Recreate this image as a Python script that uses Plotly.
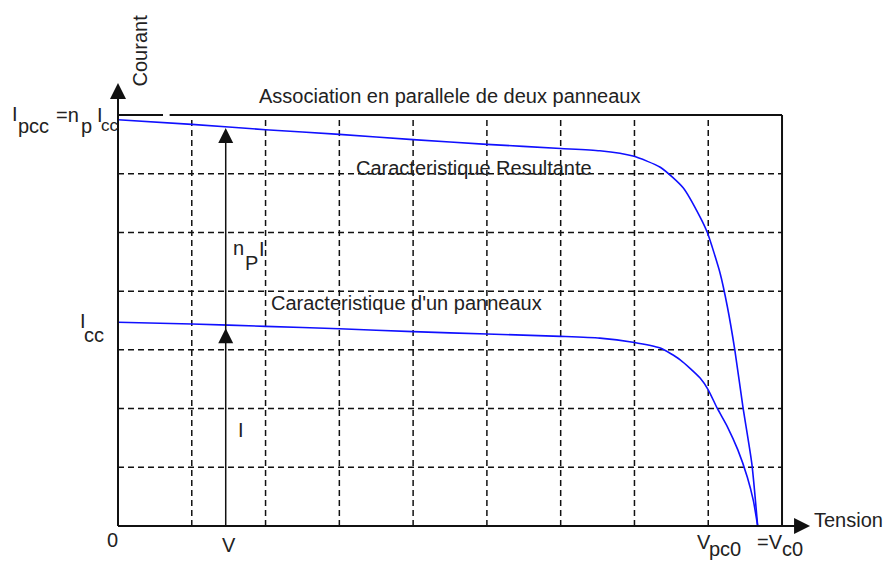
import plotly.graph_objects as go

# ---------------- data (grid units: 9 voltage divisions, 7 current divisions) ----------------
v_single = [0, 1, 2, 3, 4, 5, 6, 6.53, 6.98, 7.35, 7.62, 7.89, 8.0, 8.12, 8.26, 8.40, 8.53, 8.61, 8.67]
i_single = [3.47, 3.44, 3.40, 3.36, 3.31, 3.27, 3.23, 3.20, 3.13, 3.03, 2.83, 2.52, 2.32, 2.01, 1.69, 1.30, 0.83, 0.44, 0.0]

v_result = [0, 1, 2, 3, 4, 5, 6, 6.53, 6.98, 7.35, 7.66, 7.89, 7.99, 8.16, 8.26, 8.36, 8.47, 8.59, 8.67]
i_result = [6.92, 6.84, 6.75, 6.67, 6.58, 6.50, 6.43, 6.39, 6.30, 6.11, 5.76, 5.26, 4.99, 4.31, 3.73, 3.00, 2.03, 1.07, 0.0]

n_vdiv = 9
n_idiv = 7
v_op = 1.46          # operating voltage V
i_op = 3.37          # current of one panel at V
i_op_par = 6.78      # current of the parallel association at V
v_axis_end = 9.38
i_axis_end = 7.545

title_txt = "Association en parallele de deux panneaux"
res_txt = "Caracteristique Resultante"
one_txt = "Caracteristique d'un panneaux"

FONT = "Liberation Sans, Arial, sans-serif"
TXT = "#222"

fig = go.Figure()

# ---------------- grid ----------------
shapes = []
dash = "6px,4px"
for k in range(1, n_vdiv):
    shapes.append(dict(type="line", xref="x", yref="y", x0=k, x1=k, y0=0, y1=n_idiv,
                       line=dict(color="#111", width=1.5, dash=dash), layer="below"))
for k in range(1, n_idiv):
    shapes.append(dict(type="line", xref="x", yref="y", x0=0, x1=n_vdiv, y0=k, y1=k,
                       line=dict(color="#111", width=1.5, dash=dash), layer="below"))
# frame: top line (with small gap), right border
shapes.append(dict(type="line", x0=0, x1=0.61, y0=n_idiv, y1=n_idiv, line=dict(color="#111", width=2)))
shapes.append(dict(type="line", x0=0.70, x1=n_vdiv, y0=n_idiv, y1=n_idiv, line=dict(color="#111", width=2)))
shapes.append(dict(type="line", x0=n_vdiv, x1=n_vdiv, y0=0, y1=n_idiv, line=dict(color="#111", width=2)))
# axes
shapes.append(dict(type="line", x0=0, x1=0, y0=0, y1=i_axis_end - 0.2, line=dict(color="#111", width=2)))
shapes.append(dict(type="line", x0=0, x1=v_axis_end - 0.2, y0=0, y1=0, line=dict(color="#111", width=2)))
# operating point arrow shaft
shapes.append(dict(type="line", x0=v_op, x1=v_op, y0=0, y1=i_op_par - 0.15, line=dict(color="#111", width=1.5)))

# ---------------- curves ----------------
fig.add_trace(go.Scatter(x=v_single, y=i_single, mode="lines",
                         line=dict(color="#1010ff", width=1.6, shape="spline", smoothing=0.6),
                         hoverinfo="skip"))
fig.add_trace(go.Scatter(x=v_result, y=i_result, mode="lines",
                         line=dict(color="#1010ff", width=1.6, shape="spline", smoothing=0.6),
                         hoverinfo="skip"))

# ---------------- arrowheads ----------------
fig.add_trace(go.Scatter(x=[0], y=[i_axis_end], mode="markers",
                         marker=dict(symbol="arrow-up", size=16, color="#111", line=dict(width=0)),
                         hoverinfo="skip"))
fig.add_trace(go.Scatter(x=[v_axis_end], y=[0], mode="markers",
                         marker=dict(symbol="arrow-right", size=16, color="#111", line=dict(width=0)),
                         hoverinfo="skip"))
fig.add_trace(go.Scatter(x=[v_op, v_op], y=[i_op, i_op_par], mode="markers",
                         marker=dict(symbol="arrow-up", size=15, color="#111", line=dict(width=0)),
                         hoverinfo="skip"))

# ---------------- texts ----------------
def txt(x, y, s, xa="left", ya="middle", size=20, angle=0):
    return dict(x=x, y=y, xref="x", yref="y", text=s, showarrow=False,
                xanchor=xa, yanchor=ya, textangle=angle,
                font=dict(family=FONT, size=size, color=TXT))

ann = [
    txt(1.884, 7.324, title_txt),
    txt(3.199, 6.097, res_txt),
    txt(2.047, 3.798, one_txt),
    txt(1.599, 1.635, "I"),
    # n_P I
    txt(1.532, 4.735, "n"),
    txt(1.694, 4.479, "P"),
    txt(1.884, 4.718, "I"),
    # axis names
    txt(0.298, 8.099, "Courant", xa="center", angle=-90),
    txt(9.400, 0.102, "Tension"),
    # x labels
    txt(-0.081, -0.238, "0", xa="center"),
    txt(1.504, -0.324, "V", xa="center"),
    txt(7.821, -0.264, "V"),
    txt(7.983, -0.392, "pc0"),
    txt(8.634, -0.264, "=V"),
    txt(8.972, -0.392, "c0"),
    # y labels: I_pcc = n_p I_cc
    txt(-1.464, 7.009, "I"),
    txt(-1.380, 6.813, "pcc"),
    txt(-0.867, 7.000, "=n"),
    txt(-0.529, 6.813, "p"),
    txt(-0.312, 7.000, "I"),
    txt(-0.258, 6.813, "cc", size=17),
    # I_cc
    txt(-0.542, 3.500, "I"),
    txt(-0.488, 3.253, "cc"),
]

fig.update_layout(
    width=887, height=565,
    margin=dict(l=0, r=0, t=0, b=0),
    paper_bgcolor="white", plot_bgcolor="white",
    showlegend=False,
    xaxis=dict(range=[-118 / 73.78, (887 - 118) / 73.78], visible=False, fixedrange=True),
    yaxis=dict(range=[(526 - 565) / 58.714, 526 / 58.714], visible=False, fixedrange=True),
    shapes=shapes,
    annotations=ann,
)

fig.write_html(
    "out.html",
    config={"displayModeBar": False},
    post_script="document.body.style.margin='0';document.body.style.overflow='hidden';",
)
